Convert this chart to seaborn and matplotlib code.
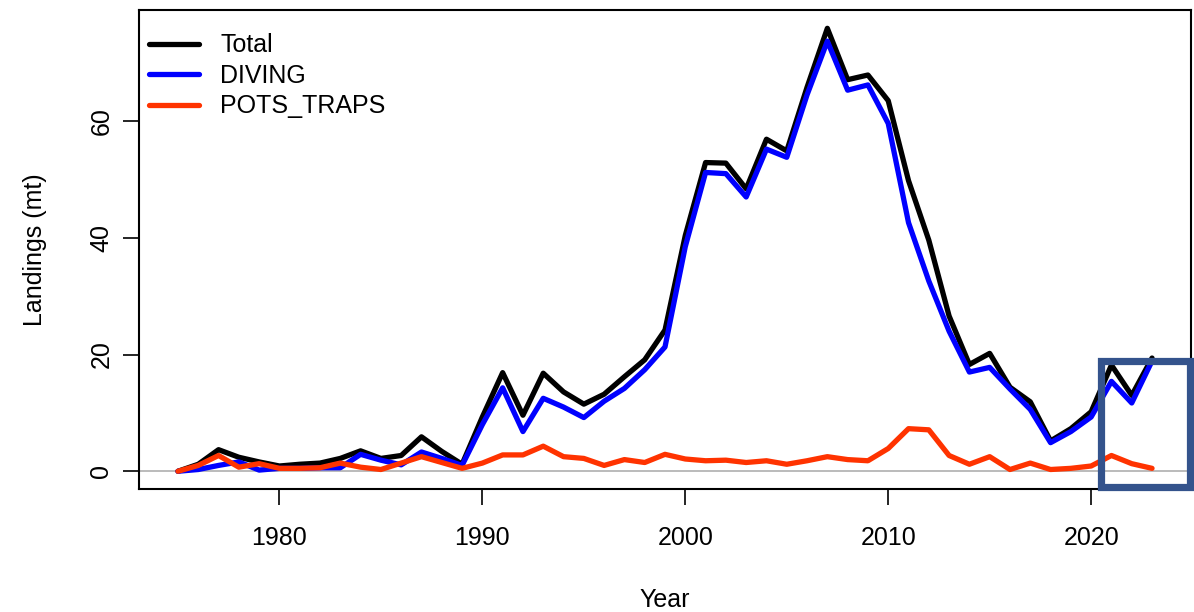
import matplotlib
matplotlib.use("Agg")
import matplotlib.pyplot as plt
import seaborn as sns
import pandas as pd
from matplotlib.patches import Rectangle
from matplotlib.lines import Line2D

years = list(range(1975, 2024))
total = [0.0, 1.2, 3.7, 2.4, 1.6, 0.9, 1.2, 1.4, 2.2, 3.5, 2.2, 2.7, 5.9, 3.4, 1.2,
         9.3, 16.9, 9.6, 16.8, 13.6, 11.5, 13.2, 16.2, 19.1, 24.2,
         40.4, 52.9, 52.8, 48.4, 56.9, 54.9, 65.8, 75.9, 67.1, 67.9,
         63.5, 49.8, 39.6, 26.6, 18.3, 20.2, 14.4, 11.9, 5.2, 7.3,
         10.2, 18.2, 13.0, 19.4]
diving = [0.0, 0.3, 1.0, 1.6, 0.2, 0.5, 0.5, 0.6, 0.6, 2.9, 1.9, 1.1, 3.3, 2.2, 1.0,
          8.0, 14.3, 6.8, 12.5, 11.0, 9.2, 12.0, 14.2, 17.4, 21.3,
          38.5, 51.2, 51.0, 47.0, 55.2, 53.8, 64.5, 73.7, 65.3, 66.2,
          59.6, 42.6, 32.6, 24.0, 17.0, 17.8, 14.1, 10.6, 4.9, 6.8,
          9.3, 15.4, 11.7, 18.9]
pots_traps = [0.0, 1.0, 2.7, 0.7, 1.3, 0.5, 0.5, 0.6, 1.4, 0.7, 0.3, 1.4, 2.5, 1.5, 0.5,
              1.4, 2.8, 2.8, 4.3, 2.5, 2.2, 1.0, 2.0, 1.5, 2.9,
              2.1, 1.8, 1.9, 1.5, 1.8, 1.2, 1.8, 2.5, 2.0, 1.8,
              3.9, 7.3, 7.1, 2.7, 1.2, 2.5, 0.3, 1.4, 0.3, 0.5,
              0.9, 2.7, 1.3, 0.5]
series_names = ["Total", "DIVING", "POTS_TRAPS"]
series_colors = ["#000000", "#0000FF", "#FF3300"]
x_ticks = [1980, 1990, 2000, 2010, 2020]
y_ticks = [0, 20, 40, 60]

df = pd.DataFrame({"Year": years, "Total": total, "DIVING": diving, "POTS_TRAPS": pots_traps})
long = df.melt(id_vars="Year", var_name="Series", value_name="Landings")

sns.set_style("white")
plt.rcParams["font.family"] = ["Liberation Sans", "DejaVu Sans"]
plt.rcParams["text.color"] = "black"
plt.rcParams["axes.labelcolor"] = "black"
plt.rcParams["xtick.color"] = "black"
plt.rcParams["ytick.color"] = "black"

FS = 18

fig = plt.figure(figsize=(11.94, 6.12), dpi=100)
ax = fig.add_axes([139 / 1194, 1 - 489 / 612, (1191 - 139) / 1194, (489 - 10) / 612])

ax.axhline(0, color="#BBBBBB", lw=1.4, zorder=1)
sns.lineplot(data=long, x="Year", y="Landings", hue="Series", hue_order=series_names,
             palette=dict(zip(series_names, series_colors)), lw=3.8, ax=ax,
             legend=False, zorder=3)

ax.set_xlim(1973.08, 2024.92)
ax.set_ylim(-3.04, 79.04)
ax.set_xticks(x_ticks)
ax.set_yticks(y_ticks)
ax.set_xticklabels([str(t) for t in x_ticks], fontsize=FS, color="black")
ax.set_yticklabels([str(t) for t in y_ticks], fontsize=FS, rotation=90, va="center", color="black")
ax.tick_params(axis="x", length=11.5, width=1.2, pad=15, colors="black", direction="out", bottom=True)
ax.tick_params(axis="y", length=11.5, width=1.2, pad=7, colors="black", direction="out", left=True)
for s in ax.spines.values():
    s.set_color("black")
    s.set_linewidth(1.5)
ax.set_xlabel("")
ax.set_ylabel("")

handles = [Line2D([0], [0], color=c, lw=3.8) for c in series_colors]
leg = ax.legend(handles, series_names, loc="upper left", frameon=False, fontsize=FS,
                handlelength=2.0, handletextpad=0.85, labelspacing=0.26,
                borderaxespad=0.0, bbox_to_anchor=(0.0, 0.972))
for t in leg.get_texts():
    t.set_color("black")

fig.text(665 / 1194, 1 - 600 / 612, "Year", ha="center", va="center", fontsize=FS, color="black")
fig.text(35 / 1194, 1 - 250 / 612, "Landings (mt)", ha="center", va="center",
         rotation=90, fontsize=FS, color="black")

rect = Rectangle((1100.5 / 1194, 1 - 486.5 / 612), (1190 - 1100.5) / 1194, (486.5 - 360.5) / 612,
                 transform=fig.transFigure, fill=False, edgecolor="#34538C", lw=5.2,
                 clip_on=False, zorder=10)
fig.patches.append(rect)

fig.savefig("out.png", dpi=100)
